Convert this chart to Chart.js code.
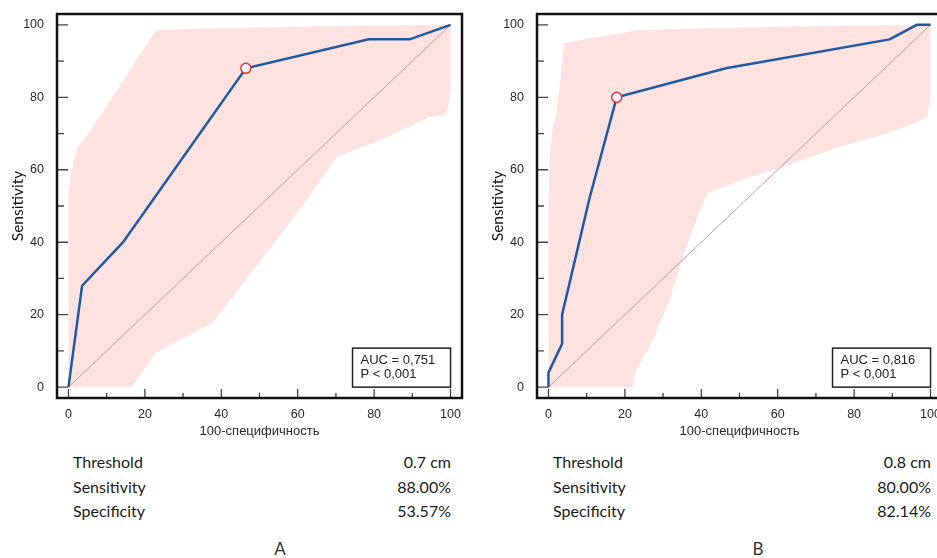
<!DOCTYPE html>
<html lang="ru">
<head>
<meta charset="UTF-8" />
<title>ROC A / B</title>
<script src="https://cdn.jsdelivr.net/npm/chart.js@4.4.0/dist/chart.umd.min.js"></script>
<style>
  html, body { margin: 0; padding: 0; background: #fff; }
  body { position: relative; width: 937px; height: 558px; overflow: hidden; }
  canvas { position: absolute; top: 0; }
  .tbl { position: absolute; top: 450px; width: 378px; font-family: Lato, "Open Sans", sans-serif; font-size: 16px; color: #1a1a1a; }
  .tbl div { display: flex; justify-content: space-between; height: 24.5px; line-height: 24px; }
  .tag { position: absolute; top: 538px; width: 40px; text-align: center; font-family: Lato, sans-serif; font-size: 17px; color: #333; }
</style>
</head>
<body>
<canvas id="rocA" width="470" height="440" style="left:0"></canvas>
<canvas id="rocB" width="470" height="440" style="left:480px"></canvas>

<div class="tbl" style="left:73px">
  <div><span>Threshold</span><span>0.7 cm</span></div>
  <div><span>Sensitivity</span><span>88.00%</span></div>
  <div><span>Specificity</span><span>53.57%</span></div>
</div>
<div class="tbl" style="left:553px">
  <div><span>Threshold</span><span>0.8 cm</span></div>
  <div><span>Sensitivity</span><span>80.00%</span></div>
  <div><span>Specificity</span><span>82.14%</span></div>
</div>
<div class="tag" style="left:260px">A</div>
<div class="tag" style="left:738px">B</div>

<script>
// ticks (both axes, both panels)
const majorTicks = [0, 20, 40, 60, 80, 100];
const minorTicks = [10, 30, 50, 70, 90];

// panel A: ROC curve, optimal cut-off, 95% CI band (polygon outline)
const rocA_x = [0, 3.57, 14.29, 46.43, 78.57, 89.29, 100];
const rocA_y = [0, 28, 40, 88, 96, 96, 100];
const cutA = [46.43, 88];
const bandA_x = [0, 0, 0.4, 1.5, 2.5, 4.7, 23, 36, 60, 100, 100, 99.4, 98.6, 94.6, 81.6, 70.3, 59.8, 49.2, 37.8, 23, 16.5];
const bandA_y = [0, 54, 57, 63, 66.4, 69.1, 98.6, 99, 99.5, 100, 82, 77.4, 75.1, 74.6, 68.2, 63.6, 48, 33.5, 17.9, 9.6, 0];
const statA = ["AUC = 0,751", "P < 0,001"];

// panel B
const rocB_x = [0, 0, 3.57, 3.57, 10.71, 17.86, 46.43, 89.29, 96.43, 100];
const rocB_y = [0, 4, 12, 20, 52, 80, 88, 96, 100, 100];
const cutB = [17.86, 80];
const bandB_x = [0, 0, 0.4, 1.2, 2.2, 4.1, 23.1, 36, 60, 100, 100, 99.1, 95.6, 88.6, 76.5, 61.6, 52.9, 41.6, 41, 38.8, 35.3, 31.8, 27.5, 23.1, 22.2, 22.2];
const bandB_y = [0, 48, 64, 72, 76, 95, 98.5, 98.9, 99.5, 100, 80, 74.6, 72.8, 70, 66.4, 60.9, 58.1, 53.5, 51.9, 46.4, 36.3, 24.3, 13.3, 5, 1.4, 0];
const statB = ["AUC = 0,816", "P < 0,001"];

const diag = [0, 100];

const toPts = (xs, ys) => xs.map((v, i) => ({ x: v, y: ys[i] }));

// frame, inside tick marks and the AUC box
const rocDecor = {
  id: "rocDecor",
  afterDatasetsDraw(chart, args, opts) {
    const { ctx, chartArea: a, scales: { x, y } } = chart;
    ctx.save();
    // stats box anchored at (100, 0)
    const bx1 = x.getPixelForValue(100), by2 = y.getPixelForValue(0);
    const bx0 = bx1 - 98, by1 = by2 - 39;
    ctx.fillStyle = "#fff";
    ctx.fillRect(bx0, by1, bx1 - bx0, by2 - by1);
    ctx.strokeStyle = "#222";
    ctx.lineWidth = 1.5;
    ctx.strokeRect(bx0, by1, bx1 - bx0, by2 - by1);
    ctx.fillStyle = "#222";
    ctx.font = '13px "Liberation Sans", Arial, sans-serif';
    ctx.textBaseline = "middle";
    ctx.fillText(opts.stat[0], bx0 + 8, by1 + 12);
    ctx.fillText(opts.stat[1], bx0 + 8, by1 + 26);

    // tick marks inside the frame
    ctx.strokeStyle = "#444";
    ctx.lineWidth = 1.3;
    ctx.beginPath();
    majorTicks.forEach(v => {
      const px = x.getPixelForValue(v), py = y.getPixelForValue(v);
      ctx.moveTo(px, a.bottom); ctx.lineTo(px, a.bottom - 9);
      ctx.moveTo(a.left, py); ctx.lineTo(a.left + 11, py);
    });
    minorTicks.forEach(v => {
      const px = x.getPixelForValue(v), py = y.getPixelForValue(v);
      ctx.moveTo(px, a.bottom); ctx.lineTo(px, a.bottom - 5);
      ctx.moveTo(a.left, py); ctx.lineTo(a.left + 7, py);
    });
    ctx.stroke();

    ctx.strokeStyle = "#111";
    ctx.lineWidth = 2.5;
    ctx.strokeRect(a.left, a.top, a.width, a.height);
    ctx.restore();
  }
};

function rocChart(id, rx, ry, cut, bx, by, stat) {
  return new Chart(document.getElementById(id), {
    type: "scatter",
    data: {
      datasets: [
        { data: [{ x: cut[0], y: cut[1] }], pointRadius: 5, pointBackgroundColor: "#fff",
          pointBorderColor: "#e3343c", pointBorderWidth: 1.5, order: 1 },
        { data: toPts(rx, ry), showLine: true, borderColor: "#1d5aa3", borderWidth: 2.5,
          pointRadius: 0, order: 2 },
        { data: toPts(diag, diag), showLine: true, borderColor: "#c99c9b", borderWidth: 1,
          pointRadius: 0, order: 3 },
        { data: toPts(bx, by), showLine: true, fill: "shape", backgroundColor: "#fde2e0",
          borderColor: "rgba(0,0,0,0)", borderWidth: 1, pointRadius: 0, order: 4 },
      ],
    },
    options: {
      responsive: false,
      animation: false,
      events: [],
      layout: { padding: { top: 14, right: 8, left: 0, bottom: 0 } },
      plugins: { legend: { display: false }, tooltip: { enabled: false }, rocDecor: { stat } },
      scales: {
        x: {
          min: -3, max: 103,
          afterBuildTicks: s => { s.ticks = majorTicks.map(v => ({ value: v })); },
          afterFit: s => { s.height = 42; },
          grid: { display: false }, border: { display: false },
          ticks: { padding: 1, color: "#2a2a2a", font: { family: '"Liberation Sans", Arial, sans-serif', size: 12.5 } },
          title: { display: true, text: "100-специфичность", color: "#2a2a2a", padding: { top: 0, bottom: 1 },
                   font: { family: '"Liberation Sans", Arial, sans-serif', size: 13 } },
        },
        y: {
          min: -3, max: 103,
          afterBuildTicks: s => { s.ticks = majorTicks.map(v => ({ value: v })); },
          afterFit: s => { s.width = 57; },
          grid: { display: false }, border: { display: false },
          ticks: { padding: 5, color: "#2a2a2a", font: { family: '"Liberation Sans", Arial, sans-serif', size: 12.5 } },
          title: { display: true, text: "Sensitivity", color: "#111", padding: { top: 9, bottom: 0 },
                   font: { family: "Lato, sans-serif", size: 15.5 } },
        },
      },
    },
    plugins: [rocDecor],
  });
}

rocChart("rocA", rocA_x, rocA_y, cutA, bandA_x, bandA_y, statA);
rocChart("rocB", rocB_x, rocB_y, cutB, bandB_x, bandB_y, statB);
</script>
</body>
</html>
